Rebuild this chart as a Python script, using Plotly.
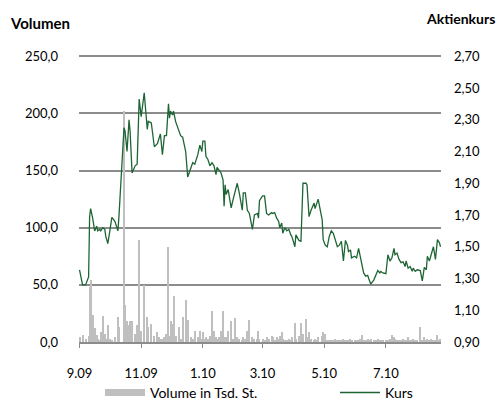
import plotly.graph_objects as go

dates = [
    "2009-09-01", "2009-09-04", "2009-09-07", "2009-09-10", "2009-09-11", "2009-09-12", "2009-09-14",
    "2009-09-16", "2009-09-18", "2009-09-19", "2009-09-21", "2009-09-22", "2009-09-24", "2009-09-26",
    "2009-09-27", "2009-09-29", "2009-10-01", "2009-10-03", "2009-10-06", "2009-10-09", "2009-10-10",
    "2009-10-15", "2009-10-16", "2009-10-18", "2009-10-20", "2009-10-21", "2009-10-23", "2009-10-26",
    "2009-10-28", "2009-10-30", "2009-11-01", "2009-11-04", "2009-11-07", "2009-11-08", "2009-11-11",
    "2009-11-14", "2009-11-17", "2009-11-19", "2009-11-20", "2009-11-22", "2009-11-24", "2009-11-26",
    "2009-11-28", "2009-11-29", "2009-11-30", "2009-12-02", "2009-12-03", "2009-12-05", "2009-12-08",
    "2009-12-10", "2009-12-12", "2009-12-15", "2009-12-17", "2009-12-20", "2009-12-22", "2009-12-24",
    "2009-12-27", "2009-12-29", "2009-12-31", "2010-01-01", "2010-01-03", "2010-01-04", "2010-01-06",
    "2010-01-08", "2010-01-10", "2010-01-12", "2010-01-14", "2010-01-15", "2010-01-17", "2010-01-19",
    "2010-01-21", "2010-01-22", "2010-01-23", "2010-01-24", "2010-01-26", "2010-01-29", "2010-01-31",
    "2010-02-02", "2010-02-04", "2010-02-06", "2010-02-09", "2010-02-10", "2010-02-12", "2010-02-14",
    "2010-02-16", "2010-02-19", "2010-02-21", "2010-02-24", "2010-02-25", "2010-02-26", "2010-03-01",
    "2010-03-03", "2010-03-05", "2010-03-07", "2010-03-10", "2010-03-11", "2010-03-13", "2010-03-15",
    "2010-03-17", "2010-03-18", "2010-03-20", "2010-03-21", "2010-03-23", "2010-03-25", "2010-03-27",
    "2010-03-29", "2010-03-30", "2010-04-02", "2010-04-03", "2010-04-06", "2010-04-08", "2010-04-10",
    "2010-04-13", "2010-04-14", "2010-04-16", "2010-04-18", "2010-04-21", "2010-04-22", "2010-04-24",
    "2010-04-25", "2010-04-29", "2010-04-30", "2010-05-02", "2010-05-04", "2010-05-06", "2010-05-08",
    "2010-05-10", "2010-05-12", "2010-05-14", "2010-05-16", "2010-05-18", "2010-05-20", "2010-05-22",
    "2010-05-24", "2010-05-25", "2010-05-27", "2010-05-28", "2010-05-31", "2010-06-02", "2010-06-04",
    "2010-06-05", "2010-06-07", "2010-06-09", "2010-06-11", "2010-06-13", "2010-06-14", "2010-06-16",
    "2010-06-19", "2010-06-21", "2010-06-23", "2010-06-25", "2010-06-26", "2010-06-28", "2010-07-01",
    "2010-07-03", "2010-07-05", "2010-07-07", "2010-07-09", "2010-07-10", "2010-07-12", "2010-07-14",
    "2010-07-16", "2010-07-18", "2010-07-20", "2010-07-21", "2010-07-23", "2010-07-25", "2010-07-27",
    "2010-07-28", "2010-07-30", "2010-08-01", "2010-08-04", "2010-08-06", "2010-08-08", "2010-08-10",
    "2010-08-11", "2010-08-13", "2010-08-15", "2010-08-17", "2010-08-19", "2010-08-21", "2010-08-23",
    "2010-08-24",
]

kurs = [
    1.355, 1.26, 1.26, 1.31, 1.69, 1.74, 1.68,
    1.60, 1.63, 1.60, 1.61, 1.60, 1.62, 1.61,
    1.565, 1.52, 1.60, 1.685, 1.66, 1.60, 1.69,
    2.25, 2.23, 2.10, 2.30, 2.23, 1.965, 2.01,
    2.02, 2.43, 2.32, 2.47, 2.24, 2.29, 2.28,
    2.13, 2.15, 2.19, 2.21, 2.08, 2.20, 2.20,
    2.40, 2.31, 2.355, 2.33, 2.355, 2.29, 2.23,
    2.20, 2.19, 2.10, 1.94, 2.00, 2.03, 2.02,
    2.08, 2.14, 2.10, 2.165, 2.165, 2.07, 2.05,
    2.01, 2.03, 2.01, 1.955, 2.00, 1.98, 1.965,
    1.92, 1.755, 1.89, 1.83, 1.86, 1.745, 1.80,
    1.85, 1.90, 1.84, 1.73, 1.84, 1.84, 1.73,
    1.71, 1.61, 1.70, 1.71, 1.68, 1.79, 1.82,
    1.82, 1.71, 1.70, 1.715, 1.71, 1.715, 1.68,
    1.66, 1.62, 1.65, 1.585, 1.62, 1.60, 1.61,
    1.575, 1.565, 1.50, 1.575, 1.54, 1.535, 1.90,
    1.90, 1.89, 1.69, 1.73, 1.775, 1.74, 1.79,
    1.80, 1.67, 1.545, 1.51, 1.50, 1.565, 1.60,
    1.585, 1.545, 1.50, 1.51, 1.535, 1.41, 1.54,
    1.51, 1.47, 1.48, 1.43, 1.44, 1.43, 1.49,
    1.46, 1.41, 1.335, 1.315, 1.32, 1.30, 1.265,
    1.29, 1.32, 1.35, 1.335, 1.345, 1.335, 1.33,
    1.45, 1.41, 1.43, 1.49, 1.45, 1.46, 1.42,
    1.40, 1.405, 1.375, 1.41, 1.365, 1.375, 1.345,
    1.365, 1.345, 1.355, 1.35, 1.285, 1.37, 1.355,
    1.44, 1.41, 1.45, 1.50, 1.42, 1.545, 1.525,
    1.50,
]

volumen = [
    4, 6, 3, 5, 48, 54, 24,
    12, 6, 3, 2, 9, 23, 7,
    3, 15, 3, 2, 4, 22, 13,
    202, 32, 18, 15, 18, 18, 7,
    15, 89, 10, 50, 22, 13, 16,
    5, 9, 4, 3, 3, 4, 7,
    83, 5, 18, 16, 40, 5, 13,
    3, 22, 37, 19, 4, 3, 10,
    4, 10, 3, 9, 3, 4, 3,
    5, 27, 10, 4, 3, 4, 10,
    27, 4, 3, 4, 10, 18, 3,
    21, 4, 3, 2, 4, 3, 10,
    19, 4, 3, 3, 10, 3, 3,
    2, 4, 3, 5, 4, 2, 4,
    3, 5, 9, 3, 2, 2, 3,
    2, 4, 17, 3, 5, 17, 7,
    20, 4, 9, 3, 2, 3, 2,
    4, 5, 9, 7, 2, 2, 1,
    2, 3, 2, 1, 2, 3, 2,
    1, 2, 3, 1, 2, 1, 2,
    3, 6, 2, 1, 3, 2, 3,
    1, 2, 3, 2, 1, 2, 1,
    2, 3, 6, 4, 3, 2, 1,
    2, 3, 1, 2, 4, 2, 1,
    3, 2, 1, 13, 2, 4, 2,
    3, 1, 3, 2, 1, 6, 2,
    3,
]

tick_dates = ["2009-09-01", "2009-11-01", "2010-01-01", "2010-03-01", "2010-05-01", "2010-07-01"]
tick_labels = ["9.09", "11.09", "1.10", "3.10", "5.10", "7.10"]
vol_ticks = [0, 50, 100, 150, 200, 250]
kurs_ticks = [0.90, 1.10, 1.30, 1.50, 1.70, 1.90, 2.10, 2.30, 2.50, 2.70]

assert len(dates) == len(kurs) == len(volumen)

FONT = "Lato"
GRID = "#8c8c8c"
BAR = "#bfbfbf"
GREEN = "#1e6534"

# small headroom so the top gridline (250) is not clipped; right axis scaled identically
VOL_MAX = 252
KURS_MIN, KURS_MAX = 0.9, 2.7
kurs_top = KURS_MIN + (KURS_MAX - KURS_MIN) * VOL_MAX / 250

fig = go.Figure()
fig.add_trace(go.Bar(
    x=dates, y=volumen, yaxis="y", marker=dict(color=BAR, line=dict(width=0)),
    width=86400000 * 1.0, showlegend=False, name="Volume in Tsd. St.",
))
fig.add_trace(go.Scatter(
    x=dates, y=kurs, yaxis="y2", mode="lines", line=dict(color=GREEN, width=1.3),
    showlegend=False, name="Kurs",
))
# legend entries (two separate legends to reproduce the wide spacing)
fig.add_trace(go.Scatter(
    x=[None], y=[None], mode="lines", line=dict(color=BAR, width=7),
    name="Volume in Tsd. St.", showlegend=True, legend="legend",
))
fig.add_trace(go.Scatter(
    x=[None], y=[None], mode="lines", line=dict(color=GREEN, width=1.5),
    name="Kurs", showlegend=True, legend="legend2",
))

legend_common = dict(
    orientation="h", xref="container", yref="container",
    xanchor="left", y=0.02, yanchor="middle",
    font=dict(family=FONT, size=14, color="#000000"),
    itemwidth=40, bgcolor="rgba(0,0,0,0)",
)

fig.update_layout(
    width=498, height=401,
    margin=dict(l=79, r=57, t=54, b=59, autoexpand=False),
    paper_bgcolor="white", plot_bgcolor="white",
    separators=",.",
    font=dict(family=FONT, size=13, color="#000000"),
    bargap=0,
    xaxis=dict(
        type="date", range=["2009-08-31 12:00", "2010-08-24 12:00"],
        tickvals=tick_dates, ticktext=tick_labels,
        showgrid=False, showline=True, linecolor=GRID, linewidth=2,
        ticks="outside", ticklen=4, tickcolor=GRID, tickwidth=1,
        ticklabelstandoff=14, zeroline=False,
        tickfont=dict(family=FONT, size=13, color="#000000"),
    ),
    yaxis=dict(
        range=[0, VOL_MAX], tickvals=vol_ticks, tickformat=".1f",
        showgrid=True, gridcolor=GRID, gridwidth=2,
        zeroline=False, showline=False, ticks="",
        ticklabelstandoff=20,
        tickfont=dict(family=FONT, size=13, color="#000000"),
    ),
    yaxis2=dict(
        range=[KURS_MIN, kurs_top], tickvals=kurs_ticks, tickformat=".2f",
        overlaying="y", side="right", showgrid=False, zeroline=False,
        showline=False, ticks="", ticklabelstandoff=12,
        tickfont=dict(family=FONT, size=13, color="#000000"),
    ),
    legend=dict(x=100 / 498, **legend_common),
    legend2=dict(x=335 / 498, **legend_common),
    annotations=[
        dict(text="<b>Volumen</b>", xref="paper", yref="paper", x=-79 / 362, y=1.108,
             xanchor="left", yanchor="middle", showarrow=False, xshift=8,
             font=dict(family=FONT, size=15, color="#000000")),
        dict(text="<b>Aktienkurs</b>", xref="paper", yref="paper", x=1 + 57 / 362, y=1.122,
             xanchor="right", yanchor="middle", showarrow=False, xshift=-1,
             font=dict(family=FONT, size=14, color="#000000")),
    ],
)

fig.write_html("out.html")
